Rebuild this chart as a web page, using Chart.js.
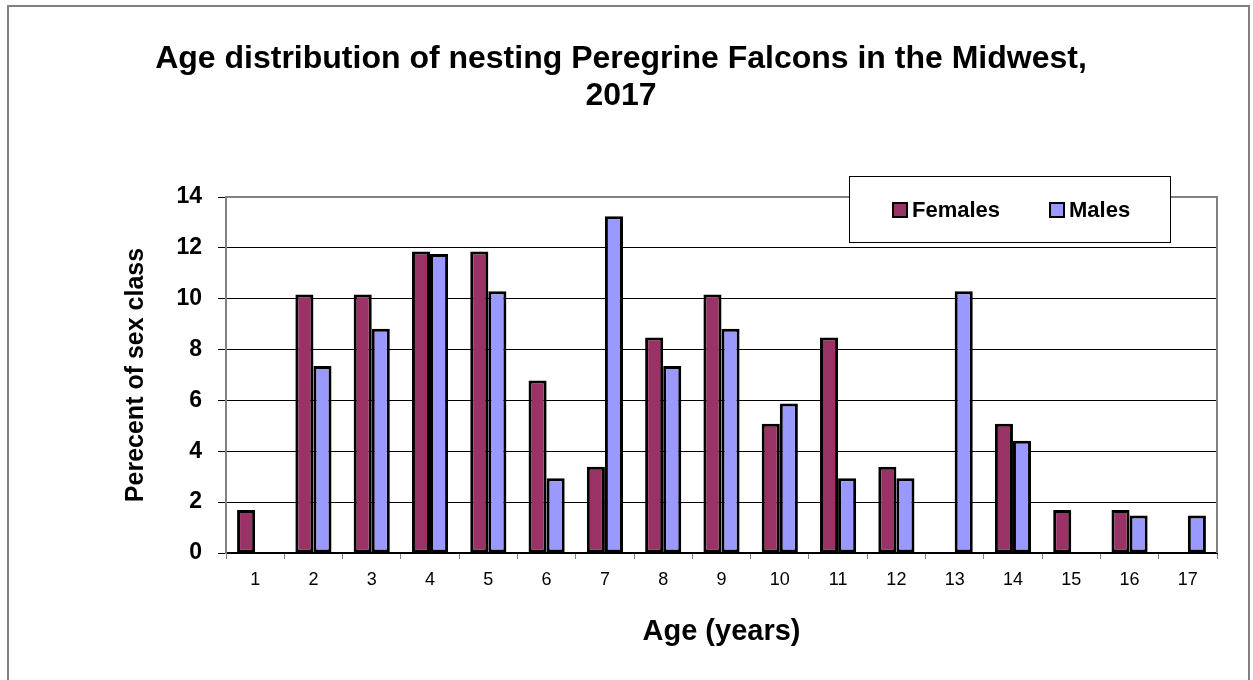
<!DOCTYPE html>
<html>
<head>
<meta charset="utf-8">
<script src="https://cdn.jsdelivr.net/npm/chart.js@4.4.1/dist/chart.umd.min.js"></script>
<style>
  html, body { margin: 0; padding: 0; background: #fff; }
  #wrap { width: 1253px; height: 680px; }
</style>
</head>
<body>
<div id="wrap"><canvas id="falconChart" width="1253" height="680"></canvas></div>
<script>
const ages = ['1', '2', '3', '4', '5', '6', '7', '8', '9', '10', '11', '12', '13', '14', '15', '16', '17'];
const females = [1.69, 10.17, 10.17, 11.86, 11.86, 6.78, 3.39, 8.47, 10.17, 5.08, 8.47, 3.39, 0, 5.08, 1.69, 1.69, 0];
const males = [0, 7.35, 8.82, 11.76, 10.29, 2.94, 13.24, 7.35, 8.82, 5.88, 2.94, 2.94, 10.29, 4.41, 0, 1.47, 1.47];
const yTicks = [0, 2, 4, 6, 8, 10, 12, 14];

const FONT = '"Liberation Sans", Arial, sans-serif';
const titleLines = ['Age distribution of nesting Peregrine Falcons in the Midwest,', '2017'];

// frame, title, plot border and the boxed legend
const decorPlugin = {
    id: 'decor',
    beforeDraw(chart) {
        const ctx = chart.ctx;
        ctx.save();
        ctx.fillStyle = '#fff';
        ctx.fillRect(0, 0, chart.width, chart.height);
        ctx.strokeStyle = '#808080';
        ctx.lineWidth = 2;
        ctx.strokeRect(8, 6, 1241, 700);
        ctx.restore();
    },
    afterDatasetsDraw(chart) {
        const ctx = chart.ctx;
        const a = chart.chartArea;
        ctx.save();
        ctx.strokeStyle = '#808080';
        ctx.lineWidth = 2;
        ctx.beginPath();
        ctx.moveTo(a.left, a.top);
        ctx.lineTo(a.right, a.top);
        ctx.lineTo(a.right, a.bottom);
        ctx.stroke();
        ctx.restore();
    },
    afterDraw(chart) {
        const ctx = chart.ctx;
        ctx.save();
        // title
        ctx.fillStyle = '#000';
        ctx.font = 'bold 32px ' + FONT;
        ctx.textAlign = 'center';
        ctx.textBaseline = 'middle';
        ctx.fillText(titleLines[0], 621, 59);
        ctx.fillText(titleLines[1], 621, 96);

        // legend
        ctx.fillStyle = '#fff';
        ctx.fillRect(849, 176, 321, 66);
        ctx.strokeStyle = '#000';
        ctx.lineWidth = 1;
        ctx.strokeRect(849.5, 176.5, 321, 66);
        const items = [{ x: 893, ds: chart.data.datasets[0] }, { x: 1050, ds: chart.data.datasets[1] }];
        ctx.font = 'bold 22px ' + FONT;
        ctx.textAlign = 'left';
        items.forEach(function(it) {
            ctx.fillStyle = it.ds.backgroundColor;
            ctx.fillRect(it.x, 203, 14, 14);
            ctx.lineWidth = 2;
            ctx.strokeStyle = '#000';
            ctx.strokeRect(it.x, 203, 14, 14);
            ctx.fillStyle = '#000';
            ctx.fillText(it.ds.label, it.x + 19, 211);
        });
        ctx.restore();
    }
};

const ctx = document.getElementById('falconChart').getContext('2d');
new Chart(ctx, {
    type: 'bar',
    data: {
        labels: ages,
        datasets: [
            {
                label: 'Females',
                data: females,
                backgroundColor: '#993366',
                borderColor: '#000',
                borderWidth: function(c) { return c.raw ? 3 : 0; },
                borderSkipped: false
            },
            {
                label: 'Males',
                data: males,
                backgroundColor: '#9999FF',
                borderColor: '#000',
                borderWidth: function(c) { return c.raw ? 3 : 0; },
                borderSkipped: false
            }
        ]
    },
    options: {
        responsive: false,
        animation: false,
        layout: { padding: { top: 197, right: 36, left: 0, bottom: 0 } },
        datasets: { bar: { categoryPercentage: 0.62, barPercentage: 1.0 } },
        plugins: {
            legend: { display: false },
            title: { display: false },
            tooltip: { enabled: false }
        },
        scales: {
            x: {
                afterFit: function(scale) { scale.height = 127; },
                grid: {
                    offset: true,
                    drawOnChartArea: false,
                    drawTicks: true,
                    tickLength: 6,
                    color: '#808080'
                },
                border: { display: true, color: '#000', width: 2 },
                ticks: {
                    color: '#000',
                    padding: 10,
                    font: { family: FONT, size: 18 }
                },
                title: {
                    display: true,
                    text: 'Age (years)',
                    color: '#000',
                    font: { family: FONT, size: 29, weight: 'bold' },
                    padding: { top: 0, bottom: 31 }
                }
            },
            y: {
                min: 0,
                max: 14,
                afterFit: function(scale) { scale.width = 226; },
                afterBuildTicks: function(scale) {
                    scale.ticks = yTicks.map(function(v) { return { value: v }; });
                },
                grid: {
                    color: function(c) { return c.tick && c.tick.value === 14 ? '#808080' : '#000'; },
                    lineWidth: 1,
                    tickLength: 8,
                    tickColor: '#000'
                },
                border: { display: true, color: '#808080', width: 2 },
                ticks: {
                    color: '#000',
                    padding: 16,
                    font: { family: FONT, size: 23, weight: 'bold' }
                },
                title: {
                    display: true,
                    text: 'Perecent of sex class',
                    color: '#000',
                    font: { family: FONT, size: 25, weight: 'bold' },
                    padding: { top: 121, bottom: 0 }
                }
            }
        }
    },
    plugins: [decorPlugin]
});
</script>
</body>
</html>
